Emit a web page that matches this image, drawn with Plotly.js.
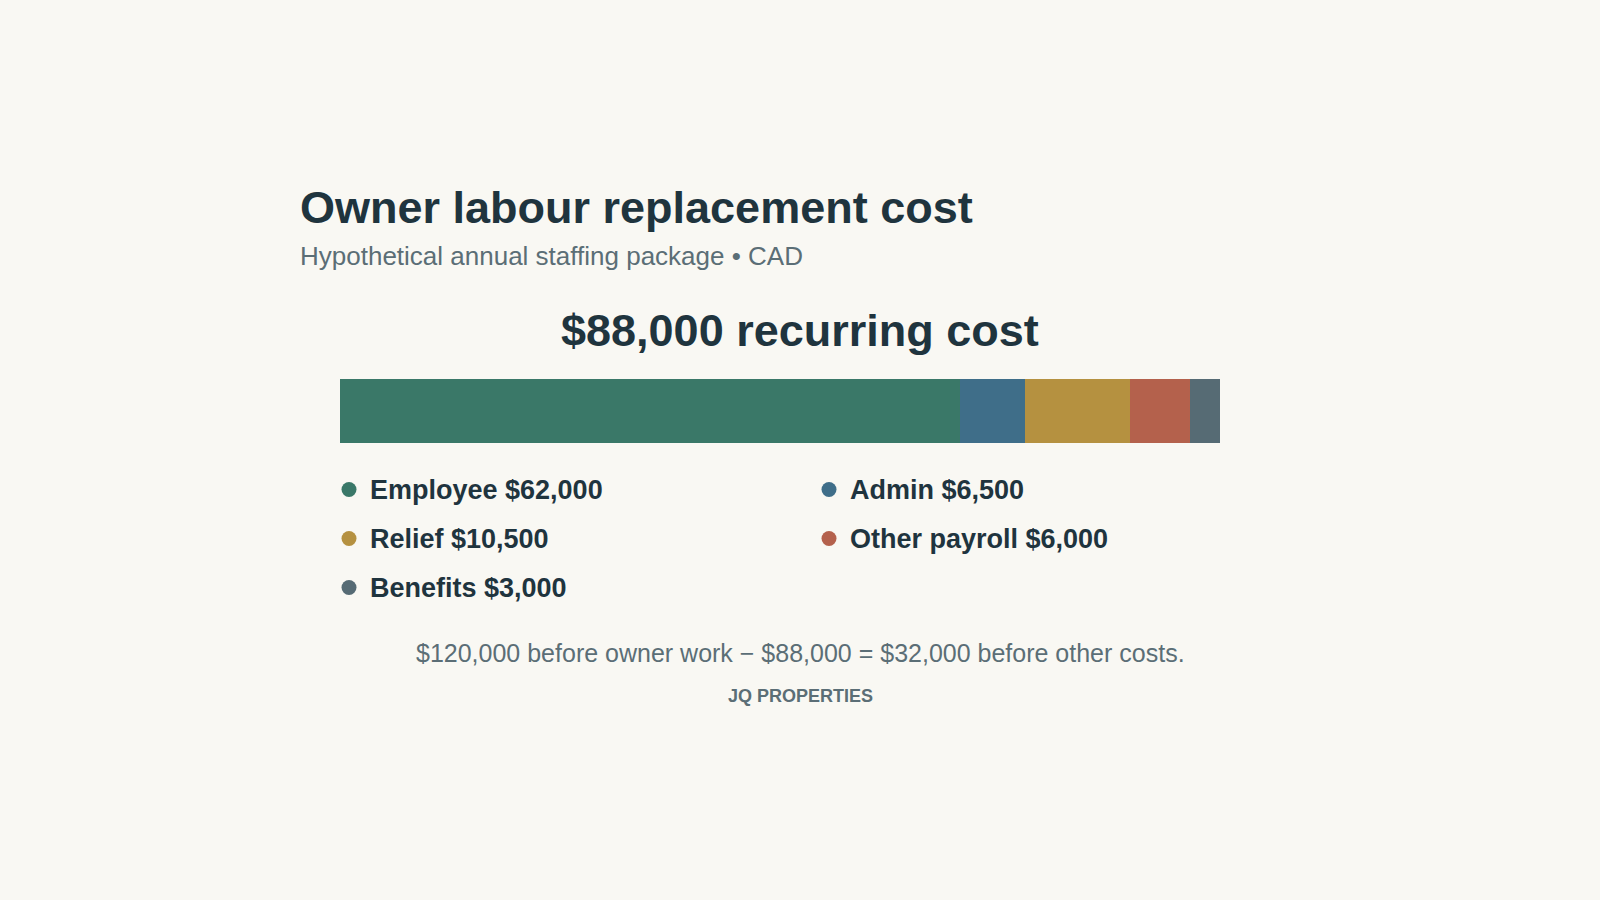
<!DOCTYPE html>
<html><head><meta charset="utf-8">
<script src="https://cdn.plot.ly/plotly-3.0.1.min.js"></script>
<style>html,body{margin:0;padding:0;background:#f9f8f3;}#chart{width:1600px;height:900px;}</style>
</head><body><div id="chart"></div>
<script>
const categories = ["Employee", "Admin", "Relief", "Other payroll", "Benefits"];
const values = [62000, 6500, 10500, 6000, 3000];
const colors = ["#3a7868", "#3f6e89", "#b59140", "#b4614c", "#566b74"];
const grossBeforeOwnerWork = 120000;
const titleText = "Owner labour replacement cost";
const subtitleText = "Hypothetical annual staffing package • CAD";
const sourceText = "JQ PROPERTIES";

const fmt = v => "$" + v.toLocaleString("en-US");
const total = values.reduce((a, b) => a + b, 0);
const FONT = "Liberation Sans, Arial, Helvetica, sans-serif";
const DARK = "#1f343e";
const GREY = "#5b6e76";

const traces = categories.map((c, i) => ({
  type: "bar", orientation: "h",
  x: [values[i]], y: ["cost"], width: 1,
  marker: {color: colors[i], line: {width: 0}},
  name: c, hoverinfo: "skip", showlegend: false,
  xaxis: "x", yaxis: "y"
}));

// custom two-column legend (row-major), drawn on pixel-unit axes
const colW = 480, rowH = 49, dotX = 349, txtX = 370, row0 = 492, dotDy = -2.5;
const lx = [], ly = [], tx = [], ty = [], labels = [];
categories.forEach((c, i) => {
  const col = i % 2, row = Math.floor(i / 2);
  lx.push(dotX + col * colW); ly.push(row0 + row * rowH + dotDy);
  tx.push(txtX + col * colW); ty.push(row0 + row * rowH);
  labels.push(c + " " + fmt(values[i]));
});
traces.push({
  type: "scatter", mode: "markers", x: lx, y: ly,
  marker: {size: 15, color: colors, line: {width: 0}},
  hoverinfo: "skip", showlegend: false, xaxis: "x2", yaxis: "y2", cliponaxis: false
});
traces.push({
  type: "scatter", mode: "text", x: tx, y: ty, text: labels,
  textposition: "middle right",
  textfont: {family: FONT, size: 27, color: DARK, weight: "bold"},
  hoverinfo: "skip", showlegend: false, xaxis: "x2", yaxis: "y2", cliponaxis: false
});

const layout = {
  width: 1600, height: 900,
  paper_bgcolor: "#f9f8f3", plot_bgcolor: "rgba(0,0,0,0)",
  margin: {l: 0, r: 0, t: 0, b: 0},
  font: {family: FONT, color: DARK},
  showlegend: false,
  barmode: "stack", bargap: 0,
  title: {
    text: titleText, x: 300 / 1600, xanchor: "left", xref: "container",
    y: 1 - 207 / 900, yanchor: "middle", yref: "container",
    font: {family: FONT, size: 45, color: DARK, weight: "bold"}
  },
  xaxis: {domain: [340 / 1600, 1220 / 1600], range: [0, total], visible: false, fixedrange: true},
  yaxis: {domain: [1 - 443 / 900, 1 - 379 / 900], range: [-0.5, 0.5], visible: false, fixedrange: true},
  xaxis2: {domain: [0, 1], range: [0, 1600], visible: false, anchor: "y2", fixedrange: true},
  yaxis2: {domain: [0, 1], range: [900, 0], visible: false, anchor: "x2", fixedrange: true},
  annotations: [
    {text: subtitleText, xref: "paper", yref: "paper", x: 298 / 1600, y: 1 - 256 / 900,
     xanchor: "left", yanchor: "middle", showarrow: false,
     font: {family: FONT, size: 26, color: GREY}},
    {text: fmt(total) + " recurring cost", xref: "paper", yref: "paper", x: 0.5, y: 1 - 330 / 900,
     xanchor: "center", yanchor: "middle", showarrow: false,
     font: {family: FONT, size: 45, color: DARK, weight: "bold"}},
    {text: fmt(grossBeforeOwnerWork) + " before owner work − " + fmt(total) + " = " + fmt(grossBeforeOwnerWork - total) + " before other costs.",
     xref: "paper", yref: "paper", x: 0.5, y: 1 - 653 / 900, xanchor: "center", yanchor: "middle", showarrow: false,
     font: {family: FONT, size: 25, color: GREY}},
    {text: sourceText, xref: "paper", yref: "paper", x: 0.5, y: 1 - 696 / 900, xanchor: "center", yanchor: "middle", showarrow: false,
     font: {family: FONT, size: 18, color: GREY, weight: "bold"}}
  ]
};
Plotly.newPlot("chart", traces, layout, {displayModeBar: false, staticPlot: true});
</script></body></html>
